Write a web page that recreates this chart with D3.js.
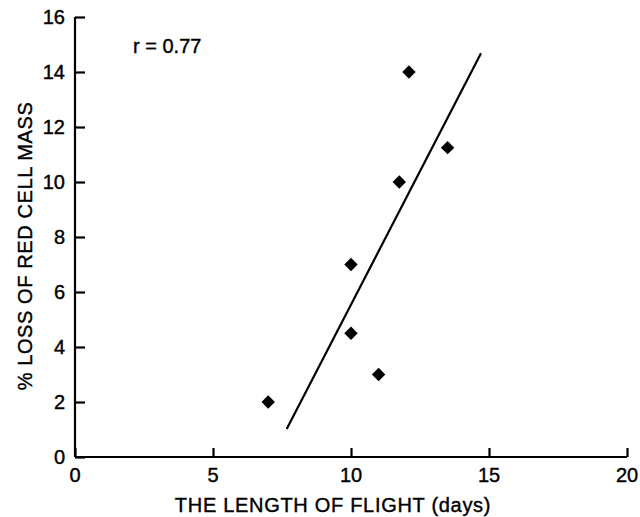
<!DOCTYPE html>
<html>
<head>
<meta charset="utf-8">
<script src="https://cdn.jsdelivr.net/npm/d3@7"></script>
<style>
  body { margin: 0; background: #fff; }
  text { font-family: "Liberation Sans", Arial, sans-serif; fill: #000; }
</style>
</head>
<body>
<div id="chart"></div>
<script>
// flight length (days) vs % loss of red cell mass
const flightDays = [7, 10, 10, 11, 11.75, 12.1, 13.5];
const massLoss = [2, 7, 4.5, 3, 10, 14, 11.25];
// regression line end points
const fitDays = [7.67, 14.71];
const fitLoss = [1.02, 14.68];
const xTicks = [0, 5, 10, 15, 20];
const yTicks = [0, 2, 4, 6, 8, 10, 12, 14, 16];

const svg = d3.select("#chart")
  .append("svg")
    .attr("width", 640)
    .attr("height", 517);

const xScale = d3.scaleLinear()
  .domain([0, 20])
  .range([75, 627]);

const yScale = d3.scaleLinear()
  .domain([0, 16])
  .range([457, 17]);

// x axis
const xAxis = svg.append("g")
  .attr("transform", `translate(0, ${yScale(0)})`)
  .call(d3.axisTop(xScale).tickValues(xTicks).tickSize(9).tickFormat(""));

// y axis
const yAxis = svg.append("g")
  .attr("transform", `translate(${xScale(0)}, 0)`)
  .call(d3.axisRight(yScale).tickValues(yTicks).tickSize(10).tickFormat(""));

[xAxis, yAxis].forEach(ax => {
  ax.select(".domain").attr("d", null);
  ax.selectAll("line").attr("stroke", "#000").attr("stroke-width", 2.2);
});

svg.append("line")
  .attr("x1", xScale(0)).attr("x2", xScale(20))
  .attr("y1", yScale(0)).attr("y2", yScale(0))
  .attr("stroke", "#000").attr("stroke-width", 2.2);

svg.append("line")
  .attr("x1", xScale(0)).attr("x2", xScale(0))
  .attr("y1", yScale(0)).attr("y2", yScale(16))
  .attr("stroke", "#000").attr("stroke-width", 2.2);

// tick labels
svg.append("g")
  .selectAll("text")
  .data(xTicks)
  .join("text")
    .text(d => d)
    .attr("x", d => xScale(d))
    .attr("y", yScale(0) + 25)
    .attr("text-anchor", "middle")
    .style("font-size", "20px")
    .style("stroke", "#000").style("stroke-width", 0.4);

svg.append("g")
  .selectAll("text")
  .data(yTicks)
  .join("text")
    .text(d => d)
    .attr("x", xScale(0) - 10)
    .attr("y", d => yScale(d) + 7)
    .attr("text-anchor", "end")
    .style("font-size", "20px")
    .style("stroke", "#000").style("stroke-width", 0.4);

// axis titles
svg.append("text")
  .text("THE LENGTH OF FLIGHT (days)")
  .attr("x", 333)
  .attr("y", 512)
  .attr("text-anchor", "middle")
  .style("font-size", "20px")
  .style("letter-spacing", "0.7px")
  .style("stroke", "#000").style("stroke-width", 0.4);

svg.append("text")
  .text("% LOSS OF RED CELL MASS")
  .attr("transform", "translate(32, 246) rotate(-90)")
  .attr("text-anchor", "middle")
  .style("font-size", "20px")
  .style("letter-spacing", "0.6px")
  .style("stroke", "#000").style("stroke-width", 0.4);

svg.append("text")
  .text("r = 0.77")
  .attr("x", 133)
  .attr("y", 53)
  .style("font-size", "20px")
  .style("stroke", "#000").style("stroke-width", 0.4);

// regression line
svg.append("line")
  .attr("x1", xScale(fitDays[0])).attr("y1", yScale(fitLoss[0]))
  .attr("x2", xScale(fitDays[1])).attr("y2", yScale(fitLoss[1]))
  .attr("stroke", "#000")
  .attr("stroke-width", 2.2);

// diamonds
const diamond = d3.symbol().type(d3.symbolSquare).size(90);
svg.append("g")
  .selectAll("path")
  .data(flightDays)
  .join("path")
    .attr("d", diamond)
    .attr("transform", (d, i) => `translate(${xScale(d)}, ${yScale(massLoss[i])}) rotate(45)`)
    .attr("fill", "#000");
</script>
</body>
</html>
